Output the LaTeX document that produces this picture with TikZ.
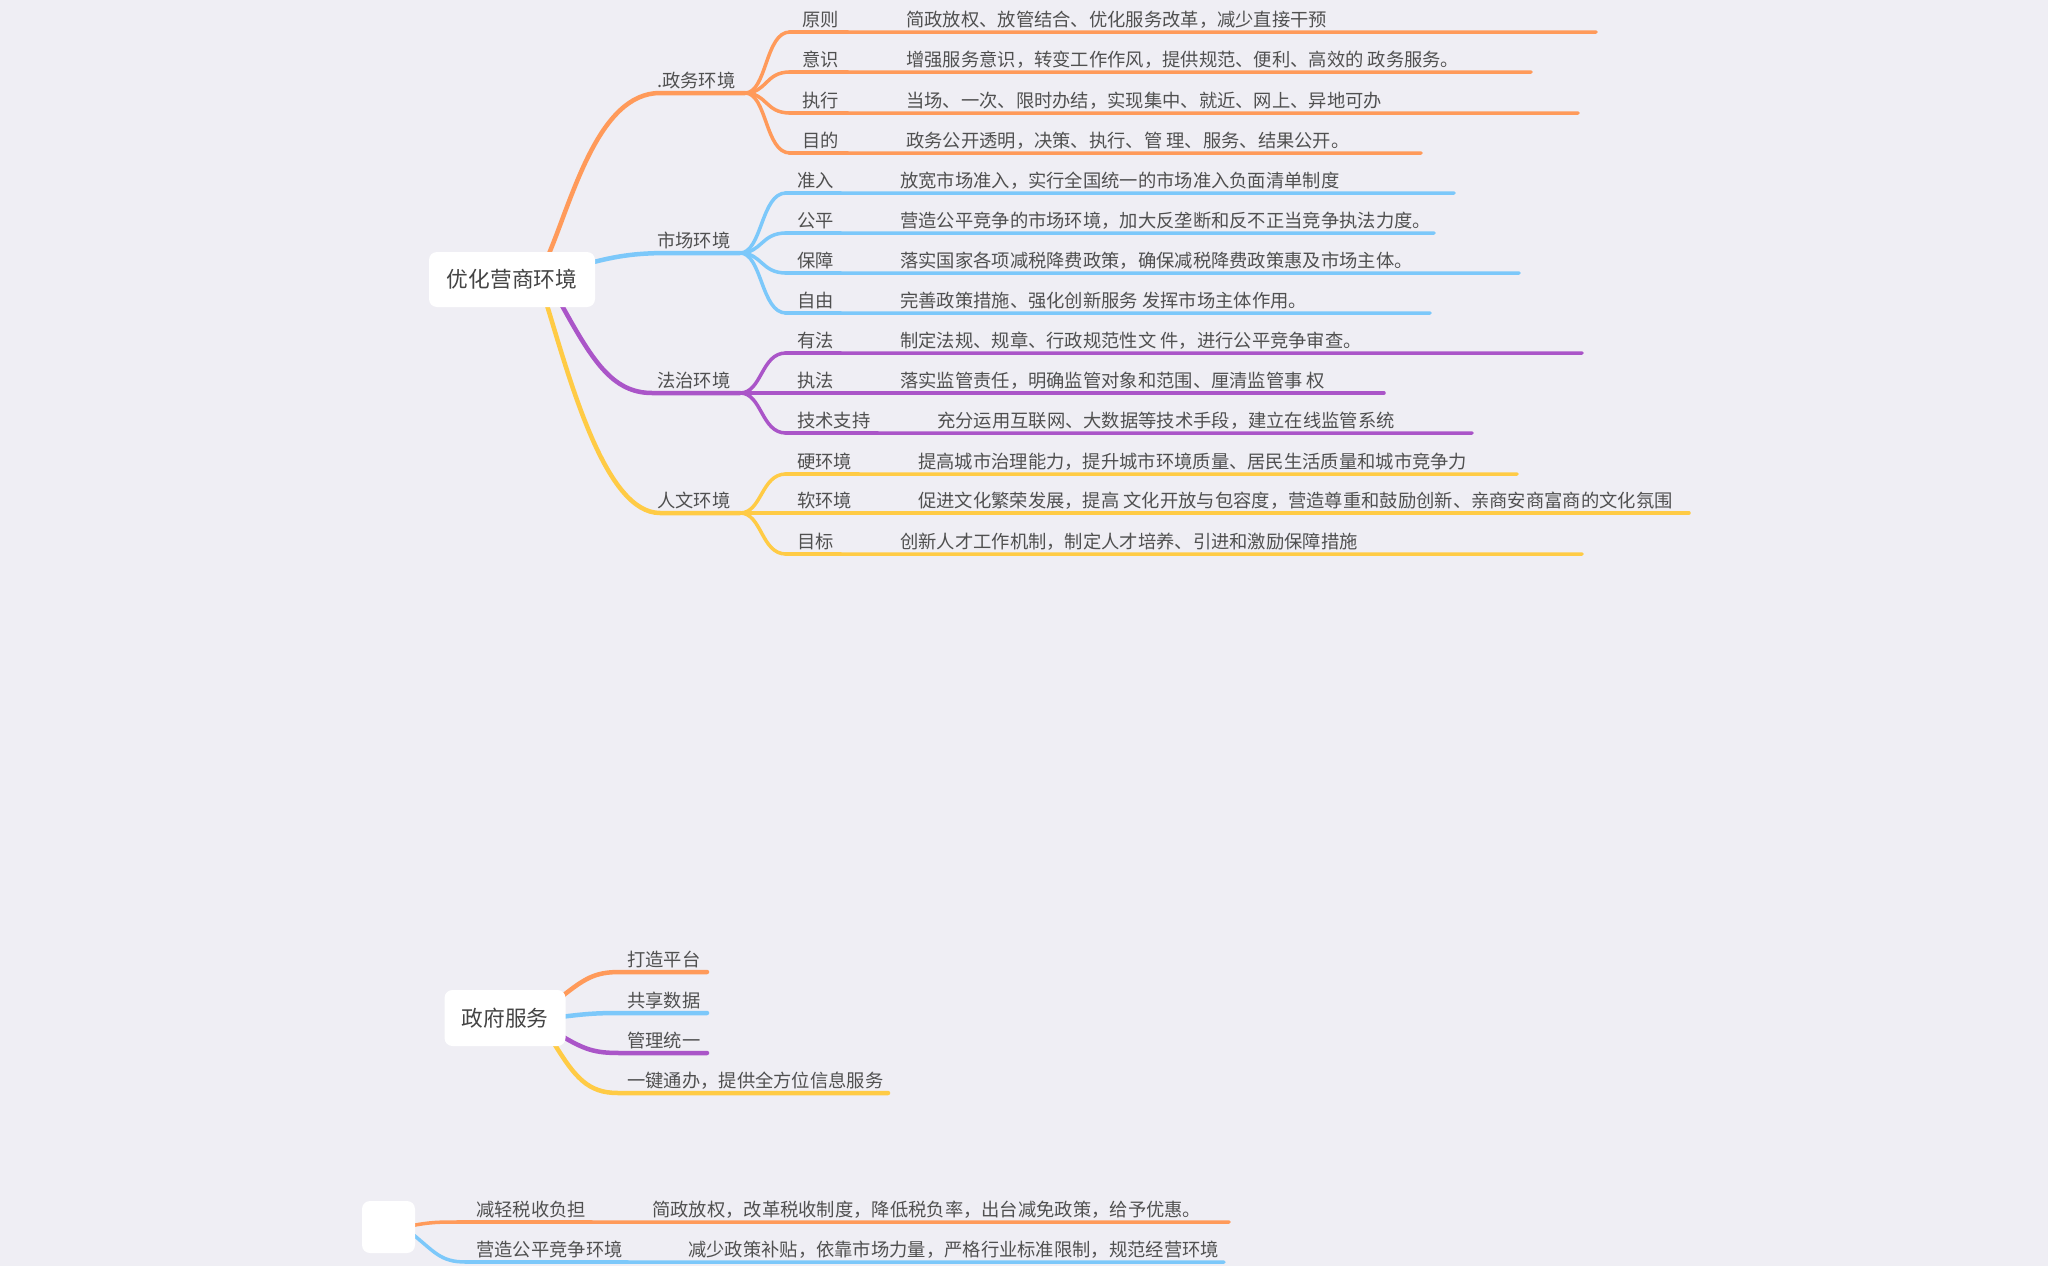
\documentclass[tikz,border=0pt]{standalone}
\usepackage{fontspec}
\setmainfont{Noto Sans CJK SC}
\definecolor{bgc}{HTML}{EFEEF4}
\definecolor{oc}{HTML}{FF9A5A}
\definecolor{bc}{HTML}{7CC8FA}
\definecolor{pc}{HTML}{AA55C8}
\definecolor{yc}{HTML}{FFCB45}
\definecolor{txc}{HTML}{505050}
\tikzset{
  lbl/.style={anchor=base west, inner sep=0pt, text=txc, font=\fontsize{18.3}{20}\selectfont},
  rootbox/.style={fill=white, rounded corners=8pt, text=txc!85!black, font=\fontsize{21.7}{24}\selectfont, inner sep=0pt},
  br/.style={line width=4.5pt, line cap=round},
  ch/.style={line width=3.5pt, line cap=round},
  chth/.style={line width=4.5pt, line cap=round},
}
\begin{document}
\begin{tikzpicture}[x=1pt,y=-1pt]
\fill[bgc] (0,0) rectangle (2048,1266);
\useasboundingbox (0,0) rectangle (2048,1266);

% ---------- map 1 ----------
\coordinate (rO) at (548,256);
\coordinate (rB) at (590,263);
\coordinate (rP) at (560,302);
\coordinate (rY) at (546,302);
\coordinate (fO) at (745,93);
\coordinate (fB) at (740,253);
\coordinate (fP) at (740,393);
\coordinate (fY) at (740,513);

\draw[br,oc] (rO) .. controls (572,200) and (598,93) .. (660,93) -- (fO);
\draw[br,bc] (rB) .. controls (620,255) and (640,253) .. (670,253) -- (fB);
\draw[br,pc] (rP) .. controls (592,360) and (612,393) .. (652,393) -- (fP);
\draw[br,yc] (rY) .. controls (570,380) and (605,513) .. (660,513) -- (fY);

\node[rootbox, minimum width=166pt, minimum height=55pt] (root) at (512,279.5) {优化营商环境};

\node[lbl] (lO) at (657,87.5) {.政务环境};
\node[lbl] (lB) at (657,247.5) {市场环境};
\node[lbl] (lP) at (657,387.5) {法治环境};
\node[lbl] (lY) at (657,507.5) {人文环境};

% orange children
\foreach \nm/\lab/\txt/\ly/\ex in {
  a/原则/简政放权、放管结合、优化服务改革，减少直接干预/32/1596,
  b/意识/增强服务意识，转变工作作风，提供规范、便利、高效的 政务服务。/72/1531,
  c/执行/当场、一次、限时办结，实现集中、就近、网上、异地可办/113/1578,
  d/目的/政务公开透明，决策、执行、管 理、服务、结果公开。/153/1421}{
  \coordinate (oS\nm) at (790,\ly);
  \coordinate (oE\nm) at (\ex,\ly);
  \draw[ch,oc] (fO) .. controls +(22,0) and +(-25,0) .. (oS\nm) -- (oE\nm);
  \draw[chth,oc] (oS\nm) -- (847,\ly);
  \node[lbl] (oL\nm) at (802,{\ly-6}) {\lab};
  \node[lbl] (oT\nm) at (906,{\ly-6}) {\txt};
}

% blue children
\foreach \nm/\lab/\txt/\ly/\ex in {
  a/准入/放宽市场准入，实行全国统一的市场准入负面清单制度/193/1454,
  b/公平/营造公平竞争的市场环境，加大反垄断和反不正当竞争执法力度。/233/1434,
  c/保障/落实国家各项减税降费政策，确保减税降费政策惠及市场主体。/273/1519,
  d/自由/完善政策措施、强化创新服务 发挥市场主体作用。/313/1430}{
  \coordinate (bS\nm) at (786,\ly);
  \coordinate (bE\nm) at (\ex,\ly);
  \draw[ch,bc] (fB) .. controls +(22,0) and +(-25,0) .. (bS\nm) -- (bE\nm);
  \draw[chth,bc] (bS\nm) -- (840,\ly);
  \node[lbl] (bL\nm) at (797,{\ly-6}) {\lab};
  \node[lbl] (bT\nm) at (900,{\ly-6}) {\txt};
}

% purple children
\foreach \nm/\lab/\txt/\tx/\ly/\ex/\th in {
  a/有法/制定法规、规章、行政规范性文 件，进行公平竞争审查。/900/353/1582/840,
  b/执法/落实监管责任，明确监管对象和范围、厘清监管事 权/900/393/1384/840,
  c/技术支持/充分运用互联网、大数据等技术手段，建立在线监管系统/937/433/1472/877}{
  \coordinate (pS\nm) at (786,\ly);
  \coordinate (pE\nm) at (\ex,\ly);
  \draw[ch,pc] (fP) .. controls +(22,0) and +(-25,0) .. (pS\nm) -- (pE\nm);
  \draw[chth,pc] (pS\nm) -- (\th,\ly);
  \node[lbl] (pL\nm) at (797,{\ly-6}) {\lab};
  \node[lbl] (pT\nm) at (\tx,{\ly-6}) {\txt};
}

% yellow children
\foreach \nm/\lab/\txt/\tx/\ly/\ex/\th in {
  a/硬环境/提高城市治理能力，提升城市环境质量、居民生活质量和城市竞争力/918/474/1517/858,
  b/软环境/促进文化繁荣发展，提高 文化开放与包容度，营造尊重和鼓励创新、亲商安商富商的文化氛围/918/513/1689/858,
  c/目标/创新人才工作机制，制定人才培养、引进和激励保障措施/900/554/1582/840}{
  \coordinate (yS\nm) at (786,\ly);
  \coordinate (yE\nm) at (\ex,\ly);
  \draw[ch,yc] (fY) .. controls +(22,0) and +(-25,0) .. (yS\nm) -- (yE\nm);
  \draw[chth,yc] (yS\nm) -- (\th,\ly);
  \node[lbl] (yL\nm) at (797,{\ly-6}) {\lab};
  \node[lbl] (yT\nm) at (\tx,{\ly-6}) {\txt};
}

% ---------- map 2 ----------
\coordinate (gO) at (560,998);
\coordinate (gB) at (560,1017);
\coordinate (gP) at (560,1035);
\coordinate (gY) at (552,1040);
\coordinate (gOe) at (707,972);
\coordinate (gBe) at (707,1013);
\coordinate (gPe) at (707,1053);
\coordinate (gYe) at (888,1093);
\draw[chth,oc] (gO) .. controls (585,978) and (595,972) .. (620,972) -- (gOe);
\draw[chth,bc] (gB) .. controls (585,1014) and (595,1013) .. (620,1013) -- (gBe);
\draw[chth,pc] (gP) .. controls (585,1050) and (595,1053) .. (620,1053) -- (gPe);
\draw[chth,yc] (gY) .. controls (575,1078) and (588,1093) .. (618,1093) -- (gYe);
\node[rootbox, minimum width=121pt, minimum height=56pt] (gov) at (505,1018) {政府服务};
\node[lbl] (g1) at (627,966) {打造平台};
\node[lbl] (g2) at (627,1007) {共享数据};
\node[lbl] (g3) at (627,1047) {管理统一};
\node[lbl] (g4) at (627,1087) {一键通办，提供全方位信息服务};

% ---------- map 3 ----------
\coordinate (tO) at (410,1226);
\coordinate (tB) at (410,1232);
\coordinate (tOe) at (1229,1222);
\coordinate (tBe) at (1224,1262);
\draw[ch,oc] (tO) .. controls (430,1222) and (440,1222) .. (458,1222) -- (tOe);
\draw[chth,oc] (458,1222) -- (591,1222);
\draw[ch,bc] (tB) .. controls (435,1252) and (440,1262) .. (466,1262) -- (tBe);
\draw[chth,bc] (466,1262) -- (627,1262);
\node[rootbox, minimum width=53pt, minimum height=52pt] (tax) at (388.5,1227) {};
\node[lbl] (t1) at (476,1216) {减轻税收负担};
\node[lbl] (t1x) at (652,1216) {简政放权，改革税收制度，降低税负率，出台减免政策，给予优惠。};
\node[lbl] (t2) at (476,1256) {营造公平竞争环境};
\node[lbl] (t2x) at (688,1256) {减少政策补贴，依靠市场力量，严格行业标准限制，规范经营环境};
\end{tikzpicture}
\end{document}
